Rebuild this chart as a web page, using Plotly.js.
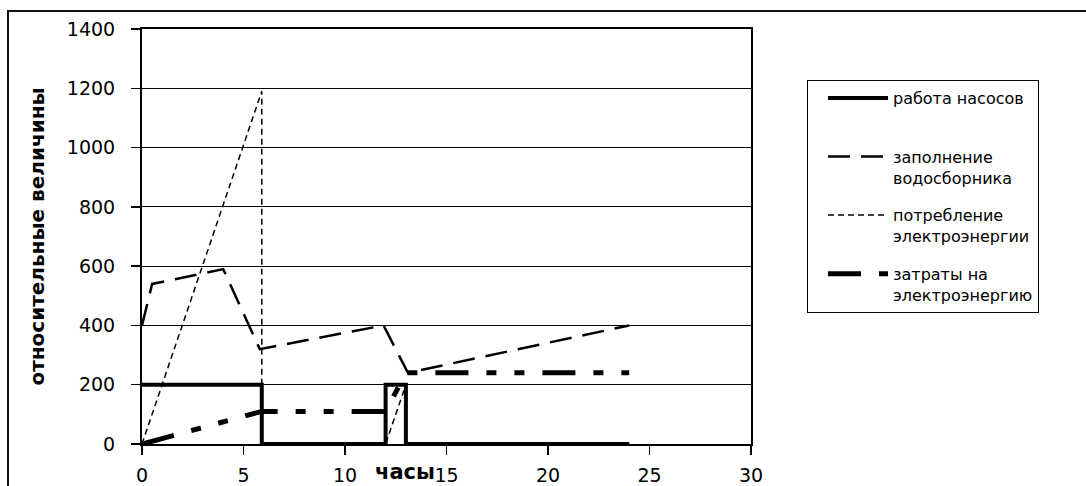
<!DOCTYPE html>
<html>
<head>
<meta charset="utf-8">
<script src="https://cdn.plot.ly/plotly-3.0.1.min.js"></script>
<style>
html,body{margin:0;padding:0;background:#fff;}
#chart{width:1086px;height:486px;}
</style>
</head>
<body>
<div id="chart"></div>
<script>
// ---- data ----
const pumpX = [0, 5.9, 5.9, 12, 12, 13, 13, 24];
const pumpY = [200, 200, 0, 0, 200, 200, 0, 0];

const fillX = [0, 0.5, 4, 5.8, 11.9, 13.1, 24];
const fillY = [400, 540, 590, 320, 400, 240, 400];

const powerX = [0, 5.9, 5.9, 12, 13, 13, 24];
const powerY = [0, 1190, 0, 0, 200, 0, 0];

const costX = [0, 5.9, 12, 13, 24];
const costY = [0, 110, 110, 240, 240];

const seriesNames = [
  'работа насосов<br> ',
  'заполнение<br>водосборника',
  'потребление<br>электроэнергии',
  'затраты на<br>электроэнергию'
];
const xTitle = 'часы';
const yTitle = 'относительные величины';

// ---- layout geometry ----
const W = 1086, H = 486;
const L = 142, R = 1086 - 751, T = 29, B = 486 - 444;
const pw = W - L - R, ph = H - T - B;
const px2x = p => (p - L) / pw;
const py2y = p => (H - B - p) / ph;

const tickFont = {family: 'DejaVu Sans, Arial, sans-serif', size: 19, color: '#000'};

const traces = [
  {x: pumpX, y: pumpY, name: seriesNames[0], mode: 'lines', legendgroup: 'g1',
   line: {color: '#000', width: 4}},
  {x: fillX, y: fillY, name: seriesNames[1], mode: 'lines', legendgroup: 'g2',
   line: {color: '#000', width: 2.5, dash: '22px,11px'}},
  {x: powerX, y: powerY, name: seriesNames[2], mode: 'lines', legendgroup: 'g3',
   line: {color: '#000', width: 1.5, dash: '6px,4px'}},
  {x: costX, y: costY, name: seriesNames[3], mode: 'lines', legendgroup: 'g4',
   line: {color: '#000', width: 5, dash: '33px,18px,10px,18px,10px,18px'}}
];

const layout = {
  width: W, height: H,
  margin: {l: L, r: R, t: T, b: B, pad: 0},
  paper_bgcolor: '#fff', plot_bgcolor: '#fff',
  showlegend: true,
  legend: {
    x: px2x(807), xanchor: 'left',
    y: py2y(80), yanchor: 'top',
    bordercolor: '#000', borderwidth: 1, bgcolor: '#fff',
    font: {family: 'DejaVu Sans, Arial, sans-serif', size: 16, color: '#000'},
    valign: 'top',
    tracegroupgap: 14,
    itemwidth: 60,
    indentation: 15
  },
  xaxis: {
    range: [0, 30], dtick: 5, tick0: 0,
    showgrid: false, zeroline: false,
    showline: true, linecolor: '#000', linewidth: 2, mirror: true,
    ticks: 'outside', ticklen: 9, tickwidth: 1.5, tickcolor: '#000',
    tickfont: tickFont, ticklabelstandoff: 4,
    fixedrange: true
  },
  yaxis: {
    range: [0, 1400], dtick: 200, tick0: 0,
    showgrid: true, gridcolor: '#000', gridwidth: 1, zeroline: false,
    showline: true, linecolor: '#000', linewidth: 2, mirror: true,
    ticks: 'outside', ticklen: 9, tickwidth: 1.5, tickcolor: '#000',
    tickfont: tickFont, ticklabelstandoff: 12,
    title: {text: yTitle, standoff: 17,
            font: {family: 'DejaVu Sans, Arial, sans-serif', size: 20, color: '#000', weight: 'bold'}},
    fixedrange: true
  },
  annotations: [{
    text: '<b>' + xTitle + '</b>', xref: 'paper', yref: 'paper',
    x: px2x(405), y: py2y(472), xanchor: 'center', yanchor: 'middle',
    showarrow: false,
    font: {family: 'DejaVu Sans, Arial, sans-serif', size: 21, color: '#000'}
  }],
  shapes: [{
    type: 'rect', xref: 'paper', yref: 'paper',
    x0: px2x(8), x1: px2x(1200), y0: py2y(600), y1: py2y(11),
    line: {color: '#111', width: 2}, fillcolor: 'rgba(0,0,0,0)', layer: 'above'
  }]
};

Plotly.newPlot('chart', traces, layout, {displayModeBar: false, staticPlot: true});
</script>
</body>
</html>
